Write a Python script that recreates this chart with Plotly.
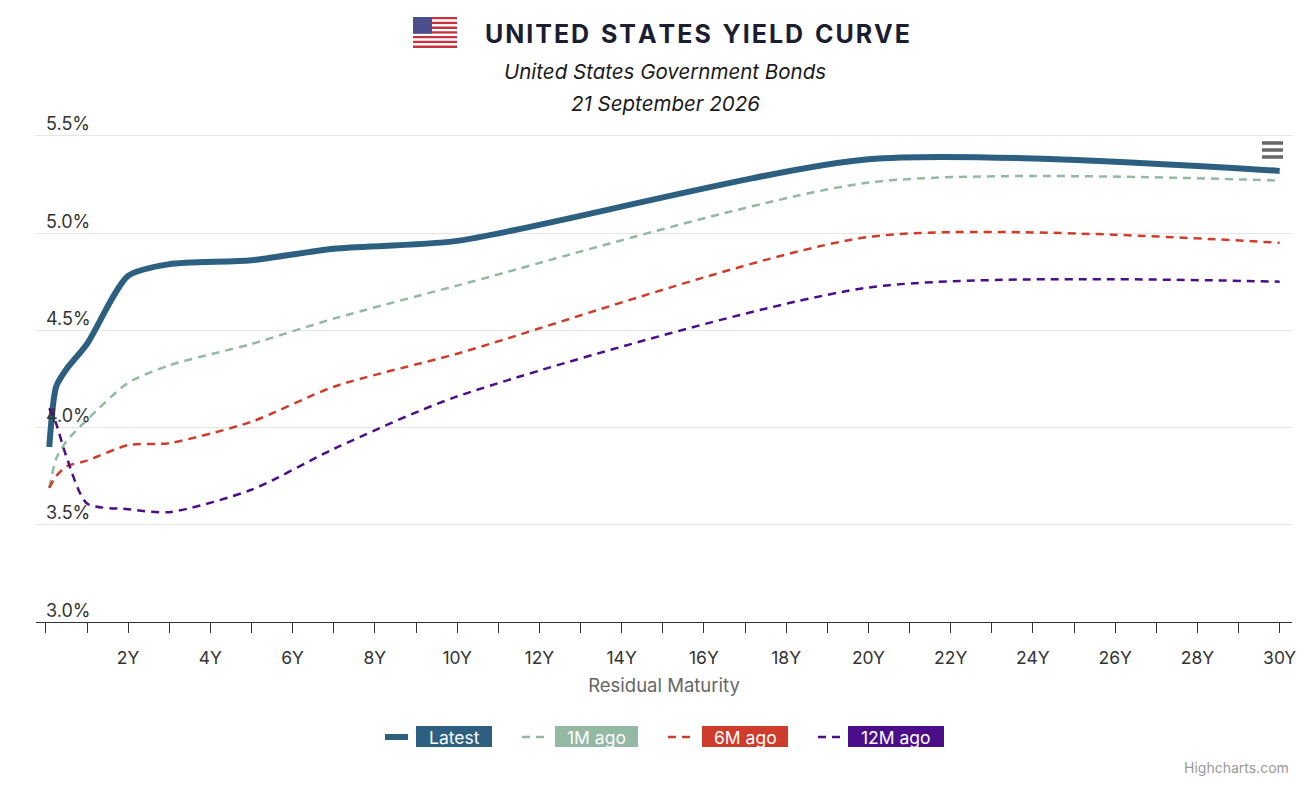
import plotly.graph_objects as go

# maturities in years (1M, 3M, 6M, 1Y ... 30Y)
maturities = [0.083, 0.25, 0.5, 1, 2, 3, 5, 7, 10, 20, 30]

latest = [3.90, 4.21, 4.30, 4.43, 4.78, 4.84, 4.86, 4.92, 4.96, 5.38, 5.32]
ago_1m = [3.69, 3.84, 3.93, 4.04, 4.23, 4.32, 4.43, 4.56, 4.73, 5.26, 5.27]
ago_6m = [3.69, 3.75, 3.80, 3.83, 3.91, 3.92, 4.03, 4.21, 4.38, 4.98, 4.95]
ago_12m = [4.10, 4.02, 3.85, 3.61, 3.58, 3.565, 3.68, 3.89, 4.16, 4.72, 4.75]

series_names = ["Latest", "1M ago", "6M ago", "12M ago"]
series_colors = ["#2d5f80", "#93b8a4", "#cf3c2c", "#4b0d8a"]

# a tick every year, a label every second year
x_tickvals = list(range(0, 31))
x_ticktext = [f"{v}Y" if v % 2 == 0 and v > 0 else "" for v in x_tickvals]
y_tickvals = [3.0, 3.5, 4.0, 4.5, 5.0, 5.5]
y_ticktext = [f"{v:.1f}%" for v in y_tickvals]

W, H = 1312, 785
L, R, T, B = 36, 20, 97, 163
FONT = "Inter, Liberation Sans, sans-serif"


def px(x):
    return (x - L) / (W - L - R)


def py(y):
    return (H - B - y) / (H - T - B)


def text_note(text, x, y, size, color, **kw):
    d = dict(text=text, x=px(x), y=py(y), xref="paper", yref="paper", showarrow=False,
             xanchor="center", yanchor="middle", font=dict(size=size, color=color, family=FONT))
    d.update(kw)
    return d


fig = go.Figure()

for name, vals, color in zip(series_names, [latest, ago_1m, ago_6m, ago_12m], series_colors):
    if name == "Latest":
        line = dict(color=color, width=6, shape="spline", smoothing=0.7)
    else:
        line = dict(color=color, width=2.5, dash="8px,6px", shape="spline", smoothing=0.7)
    fig.add_trace(go.Scatter(x=maturities, y=vals, name=name, mode="lines",
                             line=line, showlegend=False))

shapes = []
annotations = []

# flag next to the title
stripe_h = (48 - 17) / 13
for i in range(13):
    shapes.append(dict(type="rect", xref="paper", yref="paper",
                       x0=px(413), x1=px(457),
                       y0=py(17 + (i + 1) * stripe_h), y1=py(17 + i * stripe_h),
                       fillcolor="#c8323f" if i % 2 == 0 else "#ffffff", line_width=0, layer="above"))
shapes.append(dict(type="rect", xref="paper", yref="paper",
                   x0=px(413), x1=px(432), y0=py(17 + 7 * stripe_h), y1=py(17),
                   fillcolor="#4a4f8c", line_width=0, layer="above"))

# export menu icon
for yy in (143, 150, 157):
    shapes.append(dict(type="line", xref="paper", yref="paper",
                       x0=px(1262), x1=px(1283), y0=py(yy), y1=py(yy),
                       line=dict(color="#666666", width=3.5), layer="above"))

title_txt = "\u200a".join("UNITED STATES YIELD CURVE").replace("\u200a \u200a", "  ")
annotations.append(text_note(f"<b>{title_txt}</b>", 697, 34, 25, "#1b1d30"))
annotations.append(text_note("<i>United States Government Bonds</i>", 665, 72, 20.5, "#1a1a1a"))
annotations.append(text_note("<i>21 September 2026</i>", 665, 104, 20.5, "#1a1a1a"))

# y labels sit above their gridlines; written as notes because plotly's
# inside tick labels hide the x ticks lying under them
for val, txt in zip(y_tickvals, y_ticktext):
    annotations.append(dict(text=txt, x=px(44), xref="paper", y=val, yref="y",
                            yshift=12, showarrow=False, xanchor="left", yanchor="middle",
                            font=dict(size=18, color="#333333", family=FONT)))

# legend built by hand (labels sit on coloured boxes)
legend_sym = [(385, 408), (522, 548), (668, 696), (818, 843)]
legend_box = [(416, 492), (555, 638), (702, 788), (848, 944)]
for name, color, (s0, s1), (b0, b1) in zip(series_names, series_colors, legend_sym, legend_box):
    if name == "Latest":
        sym = dict(color=color, width=6)
    else:
        sym = dict(color=color, width=2.5, dash="8px,6px")
    shapes.append(dict(type="line", xref="paper", yref="paper", x0=px(s0), x1=px(s1),
                       y0=py(737), y1=py(737), line=sym))
    shapes.append(dict(type="rect", xref="paper", yref="paper", x0=px(b0), x1=px(b1),
                       y0=py(747), y1=py(726), fillcolor=color, line_width=0))
    annotations.append(text_note(name, (b0 + b1) / 2, 737, 17.5, "white"))

annotations.append(text_note("Highcharts.com", 1291, 767, 14, "#999999", xanchor="right"))

fig.update_layout(
    width=W, height=H,
    margin=dict(l=L, r=R, t=T, b=B),
    plot_bgcolor="white", paper_bgcolor="white",
    font=dict(family=FONT, color="#333333"),
    shapes=shapes, annotations=annotations,
)
fig.update_xaxes(
    range=[-0.24, 30.3], tickvals=x_tickvals, ticktext=x_ticktext,
    showgrid=False, zeroline=False, showline=True, linecolor="#333333", linewidth=1,
    ticks="outside", ticklen=10, tickcolor="#333333", tickwidth=1.3,
    tickfont=dict(size=17.5, color="#333333"), ticklabelstandoff=10,
    title=dict(text="Residual Maturity", font=dict(size=18.5, color="#666666"), standoff=12),
)
fig.update_yaxes(
    range=[3.0, 5.7], tickvals=y_tickvals, showticklabels=False,
    showgrid=True, gridcolor="#e6e6e6", gridwidth=1, zeroline=False, showline=False,
)

fig.write_html("out.html", config={"displayModeBar": False},
               post_script="document.body.style.margin='0';")
